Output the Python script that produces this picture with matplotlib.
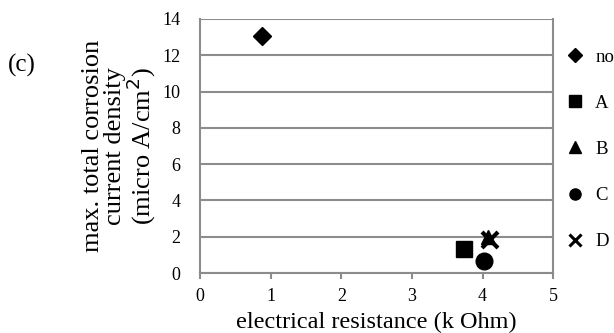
import matplotlib.pyplot as plt

plt.rcParams['font.family'] = ['Liberation Serif', 'DejaVu Serif']

labels = ['no', 'A', 'B', 'C', 'D']
resistance = [0.88, 3.73, 4.08, 4.02, 4.11]
current = [13.05, 1.32, 2.0, 0.68, 1.8]
markers = ['D', 's', '^', 'o', 'x']
sizes = [9, 12, 10, 12, 11]

fig = plt.figure(figsize=(6.14, 3.33), dpi=100)
ax = fig.add_axes([0.326, 0.180, 0.575, 0.763])

grey = '#8c8c8c'
for lab, xv, yv, m, s in zip(labels, resistance, current, markers, sizes):
    kw = dict(markeredgewidth=3) if m == 'x' else {}
    ax.plot([xv], [yv], linestyle='none', marker=m, color='black',
            markersize=s, label=lab, clip_on=False, **kw)

ax.set_xlim(0, 5)
ax.set_ylim(0, 14)
ax.set_xticks(range(0, 6))
ax.set_yticks(range(0, 15, 2))
ax.grid(axis='y', color=grey, linewidth=1.5)
ax.set_axisbelow(True)
for side in ['left', 'bottom', 'right']:
    ax.spines[side].set_color(grey)
    ax.spines[side].set_linewidth(1.5)
ax.spines['top'].set_visible(False)
ax.tick_params(axis='x', colors=grey, length=4, width=1.5, labelcolor='black',
               labelsize=13, pad=7)
ax.tick_params(axis='y', length=0, labelcolor='black', labelsize=13, pad=14)

ax.set_xlabel('electrical resistance (k Ohm)', fontsize=17.5, labelpad=5)
ax.set_ylabel('max. total corrosion\ncurrent density\n(micro A/cm$^2$)',
              fontsize=19, linespacing=0.98, labelpad=3)

handles = []
for lab, m in zip(labels, markers):
    kw = dict(markeredgewidth=2.2) if m == 'x' else {}
    h, = plt.plot([], [], linestyle='none', marker=m, color='black',
                  markersize=8 if m != 'D' else 7, label=lab, **kw)
    handles.append(h)
fig.legend(handles=handles, labels=labels, loc='upper left',
           bbox_to_anchor=(0.89, 0.905), frameon=False, fontsize=13.5,
           labelspacing=1.55, handlelength=1.2, handletextpad=0.5)

fig.text(0.013, 0.785, '(c)', fontsize=18)

fig.savefig('out.png', dpi=100)
